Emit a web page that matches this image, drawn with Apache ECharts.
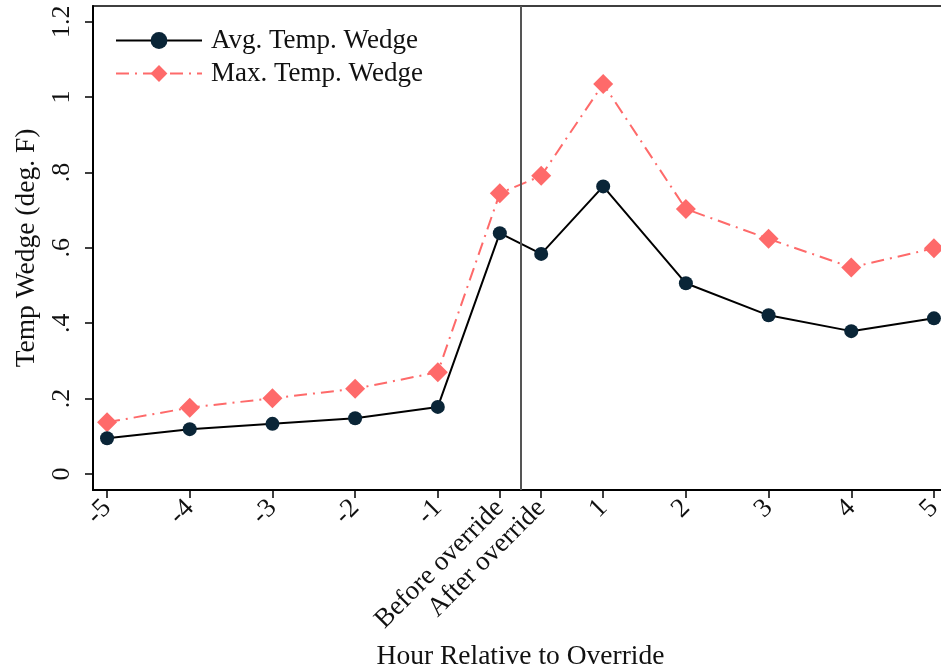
<!DOCTYPE html>
<html>
<head>
<meta charset="utf-8">
<script src="https://cdn.jsdelivr.net/npm/echarts@6/dist/echarts.min.js"></script>
<style>
  html, body { margin: 0; padding: 0; background: #fff; overflow: hidden; }
  #chart { width: 960px; height: 672px; }
</style>
</head>
<body>
<div id="chart"></div>
<script>
// Hours relative to the thermostat override; the two override points sit just either side of 0
var hourPositions = [-5, -4, -3, -2, -1, -0.25, 0.25, 1, 2, 3, 4, 5];
var hourLabels = ['-5', '-4', '-3', '-2', '-1', 'Before override', 'After override', '1', '2', '3', '4', '5'];
var avgWedge = [0.095, 0.119, 0.133, 0.148, 0.178, 0.639, 0.584, 0.763, 0.506, 0.421, 0.379, 0.413];
var maxWedge = [0.137, 0.176, 0.201, 0.226, 0.270, 0.745, 0.791, 1.035, 0.703, 0.624, 0.548, 0.599];
var yTicks = [0, 0.2, 0.4, 0.6, 0.8, 1, 1.2];
var yTickLabels = ['0', '.2', '.4', '.6', '.8', '1', '1.2'];

var FONT = 'Liberation Serif';

function pairs(values) {
  return hourPositions.map(function (x, i) { return [x, values[i]]; });
}

var chart = echarts.init(document.getElementById('chart'), null, { renderer: 'canvas' });
chart.setOption({
  animation: false,
  backgroundColor: '#fff',
  grid: {
    left: 93, top: 6, width: 855, height: 484,
    outerBoundsMode: 'none', containLabel: false,
    show: true, borderColor: '#000', borderWidth: 1.5, backgroundColor: 'transparent'
  },
  legend: {
    left: 110, top: 22,
    orient: 'vertical',
    itemWidth: 86, itemHeight: 21, itemGap: 6,
    textStyle: { fontFamily: FONT, fontSize: 27, color: '#111', padding: [0, 0, 0, 4] },
    data: ['Avg. Temp. Wedge', 'Max. Temp. Wedge']
  },
  xAxis: {
    type: 'value',
    min: -5.17, max: 5.17,
    splitLine: { show: false },
    axisLine: { show: true, onZero: false, lineStyle: { color: '#000', width: 2 } },
    axisTick: { show: true, length: 8, customValues: hourPositions, lineStyle: { color: '#000', width: 1.5 } },
    axisLabel: {
      customValues: hourPositions,
      rotate: 45, margin: 14,
      fontFamily: FONT, fontSize: 27, color: '#111',
      formatter: function (v) {
        var i = hourPositions.indexOf(v);
        return i >= 0 ? hourLabels[i] : '';
      }
    },
    name: 'Hour Relative to Override',
    nameLocation: 'middle', nameGap: 153,
    nameTextStyle: { fontFamily: FONT, fontSize: 27.5, color: '#111' }
  },
  yAxis: {
    type: 'value',
    min: -0.0425, max: 1.2417,
    splitLine: { show: false },
    axisLine: { show: true, onZero: false, lineStyle: { color: '#000', width: 2 } },
    axisTick: { show: true, length: 8, customValues: yTicks, lineStyle: { color: '#000', width: 1.5 } },
    axisLabel: {
      customValues: yTicks,
      rotate: 90, margin: 18,
      fontFamily: FONT, fontSize: 26, color: '#111',
      formatter: function (v) {
        var i = yTicks.indexOf(v);
        return i >= 0 ? yTickLabels[i] : '';
      }
    },
    name: 'Temp Wedge (deg. F)',
    nameLocation: 'middle', nameRotate: 90, nameGap: 52,
    nameTextStyle: { fontFamily: FONT, fontSize: 27.5, color: '#111' }
  },
  series: [
    {
      name: 'Avg. Temp. Wedge',
      type: 'line',
      data: pairs(avgWedge),
      symbol: 'circle', symbolSize: 14,
      itemStyle: { color: '#0a2537' },
      lineStyle: { color: '#000', width: 2 },
      z: 3,
      markLine: {
        silent: true, symbol: 'none', label: { show: false },
        lineStyle: { color: '#555', width: 2, type: 'solid' },
        data: [{ xAxis: 0 }]
      }
    },
    {
      name: 'Max. Temp. Wedge',
      type: 'line',
      data: pairs(maxWedge),
      symbol: 'diamond', symbolSize: 20,
      itemStyle: { color: '#fe6a6a' },
      lineStyle: { color: '#fe6a6a', width: 2, type: [13, 6, 2, 6] },
      z: 2
    }
  ]
});
</script>
</body>
</html>
